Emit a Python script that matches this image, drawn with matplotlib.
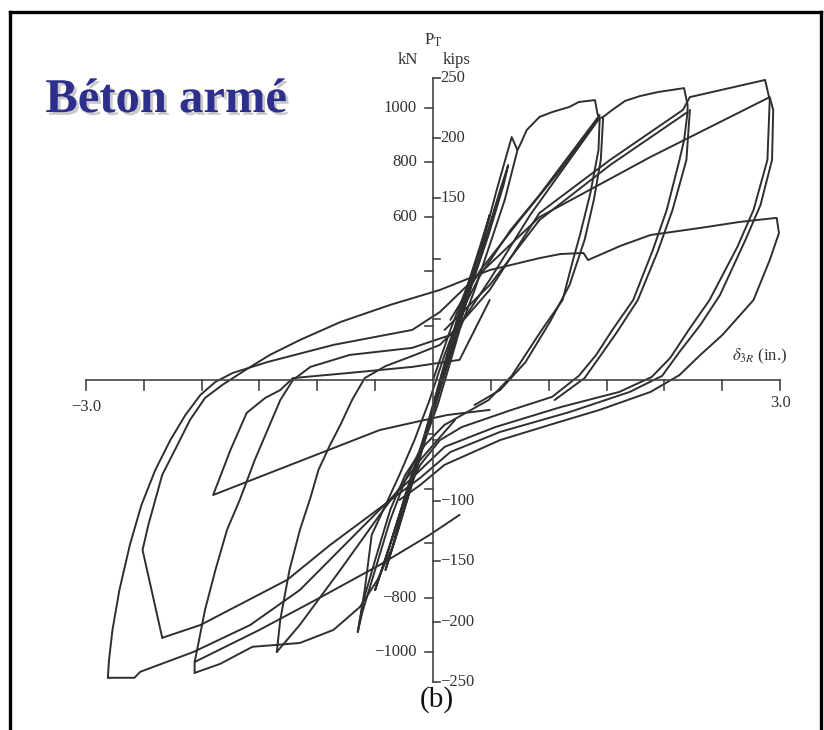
import matplotlib.pyplot as plt
from matplotlib.lines import Line2D
import matplotlib.patheffects as pe

plt.rcParams['font.family'] = ['Liberation Serif', 'DejaVu Serif']
plt.rcParams['mathtext.fontset'] = 'stix'

KIP = 4.448  # kN per kip

# axis ticks
x_ticks = [-3.0, -2.5, -2.0, -1.5, -1.0, -0.5, 0.0, 0.5, 1.0, 1.5, 2.0, 2.5, 3.0]
kn_ticks = [1000, 800, 600, 400, 200, -200, -400, -600, -800, -1000]
kn_labels = ['1000', '800', '600', '', '', '', '', '', '\u2212800', '\u22121000']
kip_ticks = [250, 200, 150, 100, 50, -50, -100, -150, -200, -250]
kip_labels = ['250', '200', '150', '', '', '', '\u2212100', '\u2212150', '\u2212200', '\u2212250']

# hysteresis branches: displacement (in.) and load (kN)
first_d = [0.00, 0.15, 0.30, 0.43, 0.55, 0.68, 0.73, 0.76, 0.81, 0.92, 1.03, 1.18, 1.26, 1.40, 1.42, 1.44]
first_p = [0, 184, 349, 504, 698, 893, 845, 871, 919, 967, 985, 1004, 1022, 1029, 981, 956]

unload1_d = [1.44, 1.43, 1.36, 1.27, 1.21, 1.12, 0.94, 0.68, 0.48, 0.25, 0.10, -0.07, -0.24, -0.37, -0.50, -0.60, -0.65]
unload1_p = [956, 845, 687, 533, 441, 294, 184, 15, -74, -129, -165, -239, -349, -478, -662, -809, -926]

vtip_d = [-0.65, -0.59, -0.53, -0.41, -0.29, -0.16, -0.03, 0.10, 0.23, 0.41, 0.67, 0.92, 1.18, 1.44]
vtip_p = [-926, -772, -570, -460, -349, -221, -74, 92, 239, 386, 551, 680, 827, 974]

spike_d = [0.73, 0.62, 0.49, 0.36, 0.23, 0.13, 0.04, -0.07, -0.24, -0.37, -0.50, -0.61, -0.65]
spike_p = [845, 662, 496, 331, 184, 37, -92, -221, -368, -515, -698, -853, -926]

neg1_d = [0.19, -0.11, -0.46, -0.80, -1.15, -1.35]
neg1_p = [-147, -294, -496, -698, -900, -1000]

cyc2_d = [-1.35, -1.32, -1.28, -1.24, -1.15, -1.06, -0.99, -0.89, -0.80, -0.70,
          -0.59, -0.41, -0.18, 0.06, 0.23, 0.49, 0.84, 1.18, 1.44, 1.47,
          1.55, 1.66, 1.79, 1.95, 2.17, 2.20, 2.20, 2.17, 2.13, 2.02,
          1.90, 1.73, 1.55, 1.41, 1.26, 1.03, 0.68, 0.25, 0.06, -0.11,
          -0.24, -0.35, -0.48, -0.63, -0.86, -1.15, -1.35, -1.56, -1.84, -2.06]
cyc2_p = [-1000, -882, -790, -698, -551, -434, -331, -239, -165, -74,
          7, 51, 88, 129, 202, 368, 607, 809, 963, 967,
          993, 1026, 1044, 1059, 1073, 1011, 985, 882, 809, 625,
          478, 294, 184, 92, 15, -62, -110, -173, -221, -312,
          -423, -614, -735, -834, -919, -967, -974, -981, -1044, -1077]

cyc3_d = [-2.06, -2.06, -2.03, -1.97, -1.88, -1.78, -1.67, -1.54, -1.43, -1.32,
          -1.21, -1.06, -0.72, -0.18, 0.15, 0.49, 0.92, 1.53, 2.16, 2.22,
          2.56, 2.87, 2.91, 2.89, 2.77, 2.63, 2.39, 2.21, 2.05, 1.89,
          1.61, 1.11, 0.54, 0.10, -0.29, -0.72, -1.15, -1.58, -2.07, -2.53,
          -2.58, -2.81]
cyc3_p = [-1077, -1037, -974, -845, -698, -551, -441, -294, -184, -74,
          0, 48, 92, 118, 165, 331, 614, 809, 993, 1040,
          1073, 1103, 1029, 809, 625, 489, 294, 184, 81, 11,
          -44, -99, -173, -246, -404, -588, -772, -901, -1000, -1073,
          -1095, -1095]

cyc4_d = [-2.81, -2.80, -2.77, -2.71, -2.62, -2.52, -2.40, -2.27, -2.14, -2.01,
          -1.88, -1.73, -1.43, -0.86, -0.18, 0.06, 0.32, 0.92, 1.88, 2.91,
          2.94, 2.93, 2.83, 2.70, 2.48, 2.31, 2.13, 1.98, 1.70, 1.18,
          0.58, 0.15, -0.11, -0.46, -0.89, -1.26, -2.01, -2.34]
cyc4_p = [-1095, -1029, -919, -772, -607, -460, -331, -221, -129, -55,
          -7, 26, 66, 129, 184, 250, 357, 599, 820, 1040,
          993, 809, 643, 515, 312, 202, 103, 15, -44, -118,
          -191, -265, -360, -471, -607, -735, -901, -948]

cyc5_d = [-2.34, -2.51, -2.46, -2.40, -2.34, -2.23, -2.10, -1.97, -1.82, -1.62,
          -1.41, -1.15, -0.80, -0.37, 0.06, 0.49, 0.92, 1.10, 1.30, 1.34,
          1.62, 1.88, 2.31, 2.65, 2.97, 2.99, 2.91, 2.77, 2.50, 2.31,
          2.13, 1.88, 1.44, 1.01, 0.58, 0.10, -0.11, -0.29]
cyc5_p = [-948, -625, -533, -441, -349, -257, -147, -66, -18, 37,
          92, 147, 213, 276, 331, 404, 448, 463, 467, 441,
          493, 533, 559, 581, 596, 540, 441, 294, 165, 92,
          18, -44, -110, -165, -221, -312, -386, -441]

small_d = [0.49, 0.12, -0.46, -1.90, -1.75, -1.61, -1.45, -1.32, -1.21, -0.72, -0.18, 0.23, 0.36, 0.49]
small_p = [-110, -129, -184, -423, -257, -121, -66, -37, 7, 26, 48, 74, 184, 294]

early1_d = [-0.33, -0.11, 0.06, 0.23, 0.41, 0.49, 0.45, 0.28, 0.10, -0.07, -0.24, -0.33]
early1_p = [-588, -257, 0, 257, 496, 607, 544, 294, 37, -221, -460, -588]
early2_d = [-0.41, -0.20, -0.01, 0.16, 0.34, 0.45, 0.39, 0.22, 0.04, -0.13, -0.30, -0.41]
early2_p = [-698, -404, -110, 147, 386, 533, 460, 202, -55, -312, -551, -698]
early3_d = [-0.50, -0.29, -0.07, 0.10, 0.28, 0.45, 0.58, 0.65, 0.61, 0.48, 0.32, 0.15, -0.03, -0.20, -0.37, -0.50]
early3_p = [-772, -496, -221, 18, 276, 515, 698, 790, 717, 533, 331, 92, -147, -368, -607, -772]

reload1_d = [0.15, 0.41, 0.75, 1.10, 1.43]
reload1_p = [221, 404, 588, 772, 963]
reload2_d = [0.10, 0.49, 0.92, 1.53, 2.20]
reload2_p = [184, 349, 588, 790, 985]

unload1b_d = [1.47, 1.45, 1.39, 1.31, 1.18, 1.01, 0.80, 0.58, 0.36]
unload1b_p = [963, 809, 662, 515, 349, 213, 66, -37, -92]
unload2b_d = [2.22, 2.19, 2.07, 1.94, 1.77, 1.59, 1.44, 1.31, 1.05]
unload2b_p = [993, 809, 625, 470, 294, 176, 85, 7, -74]

neg2_d = [-2.06, -1.50, -0.98, -0.46, -0.03, 0.23]
neg2_p = [-1037, -919, -801, -680, -570, -496]

branches = [
    (first_d, first_p), (unload1_d, unload1_p), (vtip_d, vtip_p),
    (spike_d, spike_p), (neg1_d, neg1_p), (cyc2_d, cyc2_p),
    (cyc3_d, cyc3_p), (cyc4_d, cyc4_p), (cyc5_d, cyc5_p),
    (small_d, small_p), (early1_d, early1_p), (early2_d, early2_p),
    (early3_d, early3_p), (reload1_d, reload1_p), (reload2_d, reload2_p),
    (unload1b_d, unload1b_p), (unload2b_d, unload2b_p), (neg2_d, neg2_p),
]

fig = plt.figure(figsize=(8.24, 7.30), dpi=100)
ax = fig.add_axes([0, 0, 1, 1])
ax.set_xlim(-3.742, 3.379)
ax.set_ylim(-1287, 1397)
ax.axis('off')

line_kw = dict(color='#2f2f2f', lw=1.4, solid_joinstyle='round', solid_capstyle='round')
for d, p in branches:
    ax.plot(d, p, **line_kw)

# drawn axes
axis_kw = dict(color='#444444', lw=1.2)
ax.plot([-3.0, 3.0], [0, 0], **axis_kw)
for t in x_ticks:
    if t != 0.0:
        ax.plot([t, t], [0, -37], **axis_kw)
ax.text(-3.0, -100, '\u22123.0', ha='center', va='center', fontsize=12, color='#333333')
ax.text(3.0, -85, '3.0', ha='center', va='center', fontsize=12, color='#333333')
ax.text(2.58, 85, r'$\delta_{3R}$ (in.)', ha='left', va='center', fontsize=12, color='#333333')

ax.plot([0, 0], [-250 * KIP, 250 * KIP], **axis_kw)
for t, lab in zip(kn_ticks, kn_labels):
    ax.plot([-0.07, 0], [t, t], **axis_kw)
    if lab:
        ax.text(-0.14, t, lab, ha='right', va='center', fontsize=12, color='#333333')
for t, lab in zip(kip_ticks, kip_labels):
    ax.plot([0, 0.06], [t * KIP, t * KIP], **axis_kw)
    if lab:
        ax.text(0.065, t * KIP, lab, ha='left', va='center', fontsize=12, color='#333333')

ax.text(-0.22, 1176, 'kN', ha='center', va='center', fontsize=12, color='#333333')
ax.text(0.20, 1176, 'kips', ha='center', va='center', fontsize=12, color='#333333')
ax.text(0.0, 1250, r'P$_{\mathrm{T}}$', ha='center', va='center', fontsize=12, color='#333333')

ax.text(0.03, -1176, '(b)', ha='center', va='center', fontsize=21, color='#111111')

# title with drop shadow
ax.text(-3.35, 1029, 'Béton armé', ha='left', va='center', fontsize=35,
        fontweight='bold', color='#2e2f8c',
        path_effects=[pe.SimplePatchShadow(offset=(2, -2), shadow_rgbFace='#a8a8a8', alpha=0.6),
                      pe.Normal()])

# frame
frame_kw = dict(color='black', lw=2.4, transform=fig.transFigure)
fig.add_artist(Line2D([10 / 824, 10 / 824], [0, 1 - 12 / 730], **frame_kw))
fig.add_artist(Line2D([10 / 824, 821 / 824], [1 - 12 / 730, 1 - 12 / 730], **frame_kw))
fig.add_artist(Line2D([821 / 824, 821 / 824], [0, 1 - 12 / 730], **frame_kw))

fig.savefig('out.png', dpi=100, facecolor='white')
